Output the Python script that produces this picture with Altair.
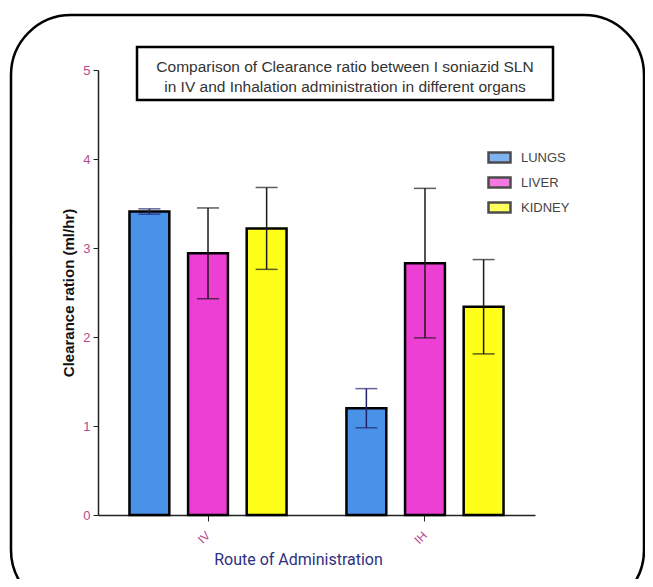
import altair as alt
import pandas as pd

routes = ["IV", "IH"]
organs = ["LUNGS", "LIVER", "KIDNEY"]
colors = ["#4a92e8", "#ee3fd4", "#ffff1a"]
err_colors = ["#22226e", "#1a1a1a", "#1a1a1a"]
iv_mean = [3.41, 2.94, 3.22]
iv_sd = [0.03, 0.51, 0.46]
ih_mean = [1.20, 2.83, 2.34]
ih_sd = [0.22, 0.84, 0.53]

rows = []
for r, means, sds in [("IV", iv_mean, iv_sd), ("IH", ih_mean, ih_sd)]:
    for o, m, s, ec in zip(organs, means, sds, err_colors):
        rows.append({"route": r, "organ": o, "mean": m, "lo": m - s, "hi": m + s, "ec": ec})
df = pd.DataFrame(rows)

W, H = 437, 445
xs = alt.X("route:N", sort=routes, scale=alt.Scale(paddingInner=0.276, paddingOuter=0.145),
           axis=alt.Axis(title="Route of Administration", labelAngle=-45, labelAlign="right",
                         labelBaseline="middle", labelColor="#b8488a", labelFontSize=12,
                         labelPadding=12, tickSize=6, tickColor="#222", domainColor="#222",
                         domainWidth=1.5, titleColor="#2e3080", titleFontSize=16,
                         titleFontWeight="normal", titleX=200, titleY=36, titleFont="Roboto"))
xo = alt.XOffset("organ:N", sort=organs, scale=alt.Scale(paddingInner=0.32, paddingOuter=0))
ys = alt.Y("mean:Q", scale=alt.Scale(domain=[0, 5], nice=False),
           axis=alt.Axis(title="Clearance ration (ml/hr)", values=[0, 1, 2, 3, 4, 5], format="d",
                         grid=False, tickSize=5, tickColor="#222", domainColor="#222", domainWidth=1.5,
                         labelColor="#b8488a", labelFontSize=13, labelPadding=3,
                         titleFontWeight="bold", titleFontSize=15, titlePadding=6, titleColor="#111"))
color = alt.Color("organ:N", sort=organs, scale=alt.Scale(domain=organs, range=colors),
                  legend=alt.Legend(title=None, orient="none", legendX=389, legendY=75, padding=0,
                                    symbolType="M-1,-0.45H1V0.45H-1Z", symbolSize=484,
                                    symbolStrokeColor="black", symbolStrokeWidth=2.5,
                                    rowPadding=2, labelOffset=9, labelFontSize=13,
                                    labelColor="#444", labelFont="Liberation Sans"))

base = alt.Chart(df)
bars = base.mark_bar(stroke="black", strokeWidth=2.5).encode(x=xs, xOffset=xo, y=ys, color=color)
rule = base.mark_rule(strokeWidth=1.5).encode(x=alt.X("route:N", sort=routes), xOffset=xo,
                                                y="lo:Q", y2="hi:Q", color=alt.Color("ec:N", scale=None))
cap_hi = base.mark_tick(size=22, thickness=1.5).encode(x=alt.X("route:N", sort=routes), xOffset=xo,
                                                        y="hi:Q", color=alt.Color("ec:N", scale=None))
cap_lo = base.mark_tick(size=22, thickness=1.5).encode(x=alt.X("route:N", sort=routes), xOffset=xo,
                                                        y="lo:Q", color=alt.Color("ec:N", scale=None))

one = alt.Chart(pd.DataFrame({"a": [0]}))
frame = one.mark_rect(fill="white", fillOpacity=0, stroke="black", strokeWidth=2.5,
                      cornerRadius=60).encode(x=alt.value(-87), x2=alt.value(546),
                                              y=alt.value(-55), y2=alt.value(540))
tbox = one.mark_rect(fill="white", stroke="black", strokeWidth=2.5).encode(
    x=alt.value(39), x2=alt.value(455), y=alt.value(-23), y2=alt.value(30))
t1 = one.mark_text(fontSize=15.5, font="Liberation Sans", color="#333").encode(
    x=alt.value(247), y=alt.value(-3), text=alt.value("Comparison of Clearance ratio between I soniazid SLN"))
t2 = one.mark_text(fontSize=15.5, font="Liberation Sans", color="#333").encode(
    x=alt.value(247), y=alt.value(17), text=alt.value("in IV and Inhalation administration in different organs"))

chart = alt.layer(frame, bars, rule, cap_hi, cap_lo, tbox, t1, t2).properties(
    width=W, height=H, autosize=alt.AutoSizeParams(type="none"),
    padding={"left": 90, "top": 62, "right": 110, "bottom": 64}
).configure_view(stroke=None).configure_axis(labelFont="Liberation Sans", titleFont="Liberation Sans")

chart.save("out.html", embed_options={"renderer": "svg", "actions": False})
